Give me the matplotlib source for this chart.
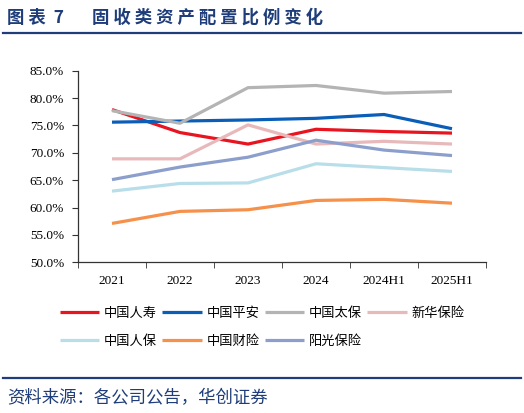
import matplotlib.pyplot as plt
from matplotlib.lines import Line2D
from matplotlib.ticker import FuncFormatter

plt.rcParams['font.family'] = ['Liberation Serif', 'Noto Sans CJK SC']

periods = ['2021', '2022', '2023', '2024', '2024H1', '2025H1']
names = ['中国人寿', '中国平安', '中国太保', '新华保险', '中国人保', '中国财险', '阳光保险']
colors = ['#E8141F', '#0A5EB8', '#B4B4B4', '#E8B9BB', '#B8DEEA', '#F5914A', '#8C9FCC']
china_life = [77.9, 73.7, 71.6, 74.3, 73.9, 73.6]
ping_an = [75.6, 75.8, 76.0, 76.3, 77.0, 74.4]
cpic = [77.7, 75.4, 81.9, 82.3, 80.9, 81.2]
new_china = [68.9, 68.9, 75.1, 71.6, 72.1, 71.6]
picc = [63.0, 64.4, 64.5, 68.0, 67.3, 66.6]
picc_pc = [57.1, 59.3, 59.6, 61.3, 61.5, 60.8]
sunshine = [65.1, 67.4, 69.2, 72.3, 70.5, 69.5]
series = [china_life, ping_an, cpic, new_china, picc, picc_pc, sunshine]

fig = plt.figure(figsize=(5.24, 4.13), dpi=100)

# title and frame lines
fig.text(0.013, 0.958, '图 表  7       固 收 类 资 产 配 置 比 例 变 化', fontsize=12.5,
         fontweight='bold', color='#1F3D7A', family=['Noto Sans CJK SC'], va='center')
fig.add_artist(Line2D([0.006, 0.994], [0.919, 0.919], color='#1F3D7A', lw=1.6))
fig.add_artist(Line2D([0.006, 0.994], [0.085, 0.085], color='#1F3D7A', lw=1.6))
fig.text(0.013, 0.036, '资料来源：各公司公告，华创证券', fontsize=12.5, style='italic',
         color='#1F3D7A', family=['Noto Sans CJK SC'], va='center')

ax = fig.add_axes([78 / 524, 1 - 262.3 / 413, 408 / 524, 191.6 / 413])
x = range(len(periods))
lines = []
for vals, c, n in zip(series, colors, names):
    ln, = ax.plot(x, vals, color=c, lw=2.3, label=n, solid_capstyle='butt')
    lines.append(ln)

ax.set_xlim(-0.5, len(periods) - 0.5)
ax.set_ylim(50, 85)
ax.set_yticks(range(50, 86, 5))
ax.yaxis.set_major_formatter(FuncFormatter(lambda v, p: f'{v:.1f}%'))
ax.set_xticks(x)
ax.set_xticklabels(periods)
ax.set_xticks([i - 0.5 for i in range(len(periods) + 1)], minor=True)
ax.tick_params(axis='x', which='major', length=0, pad=9, labelsize=9.5)
ax.tick_params(axis='x', which='minor', length=4, direction='out', color='#333333')
ax.tick_params(axis='y', length=4, direction='out', labelsize=9.5, pad=6, color='#333333')
for s in ['top', 'right']:
    ax.spines[s].set_visible(False)
for s in ['left', 'bottom']:
    ax.spines[s].set_color('#333333')
    ax.spines[s].set_linewidth(0.9)

# row-major legend order: 4 on the first row, 3 on the second
order = [0, 4, 1, 5, 2, 6, 3]
leg = ax.legend([lines[i] for i in order], [names[i] for i in order],
                ncol=4, loc='upper left', bbox_to_anchor=(-30 / 408, -0.17),
                frameon=False, handlelength=3.0, handletextpad=0.35, columnspacing=0.4,
                labelspacing=1.15, prop={'family': 'Noto Sans CJK SC', 'size': 9.5})

fig.savefig('out.png', dpi=100)
